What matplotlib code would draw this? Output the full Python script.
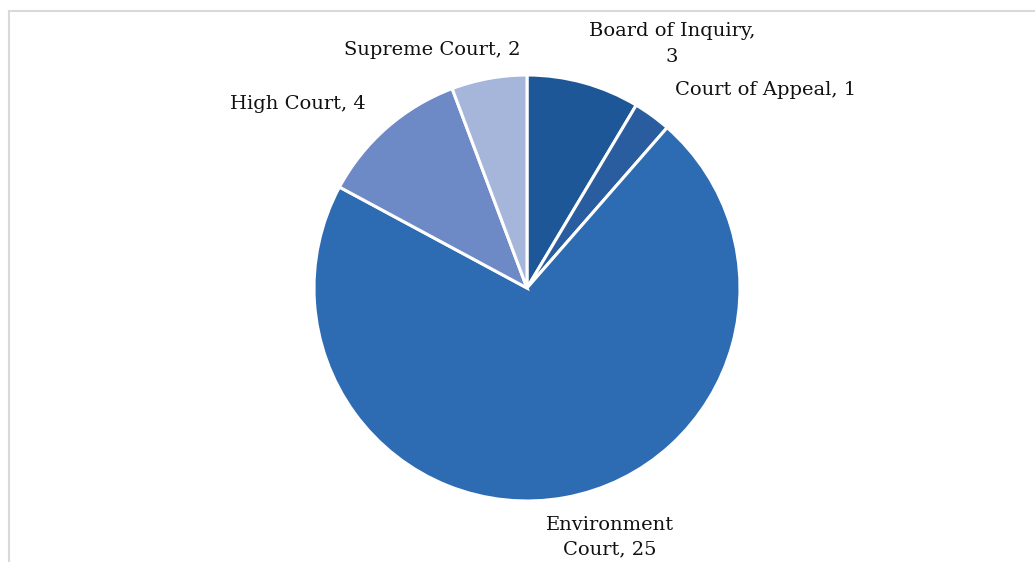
import matplotlib
matplotlib.use("Agg")
import matplotlib.pyplot as plt
from matplotlib.patches import Rectangle

# court data
labels = ["Board of Inquiry", "Court of Appeal", "Environment Court", "High Court", "Supreme Court"]
counts = [3, 1, 25, 4, 2]
colors = ["#1e5797", "#2a5ca0", "#2d6bb3", "#6d8ac6", "#a6b5da"]

# label text and position (pixels, y from top)
label_text = ["Board of Inquiry,\n3", "Court of Appeal, 1", "Environment\nCourt, 25",
              "High Court, 4", "Supreme Court, 2"]
label_xy = [(672, 44), (766, 90), (610, 537), (298, 104), (432, 50)]

W, H = 1035, 562
fig = plt.figure(figsize=(W / 100, H / 100), dpi=100)
ax = fig.add_axes([0, 0, 1, 1])

cx, cy, r = 527, 288, 213
ax.pie(counts, colors=colors, startangle=90, counterclock=False,
       center=(cx, H - cy), radius=r, frame=True,
       wedgeprops=dict(edgecolor="white", linewidth=2.2))
ax.set_xlim(0, W)
ax.set_ylim(0, H)
ax.set_aspect("equal")
ax.axis("off")

# chart frame
ax.add_patch(Rectangle((9, -200), 1100, H - 11 + 200, fill=False,
                       edgecolor="#d9d9d9", lw=1.5))

for t, (x, y) in zip(label_text, label_xy):
    ax.text(x, H - y, t, ha="center", va="center", fontsize=14,
            family="DejaVu Serif", color="#111111", linespacing=1.5)

fig.savefig("out.png", dpi=100)
